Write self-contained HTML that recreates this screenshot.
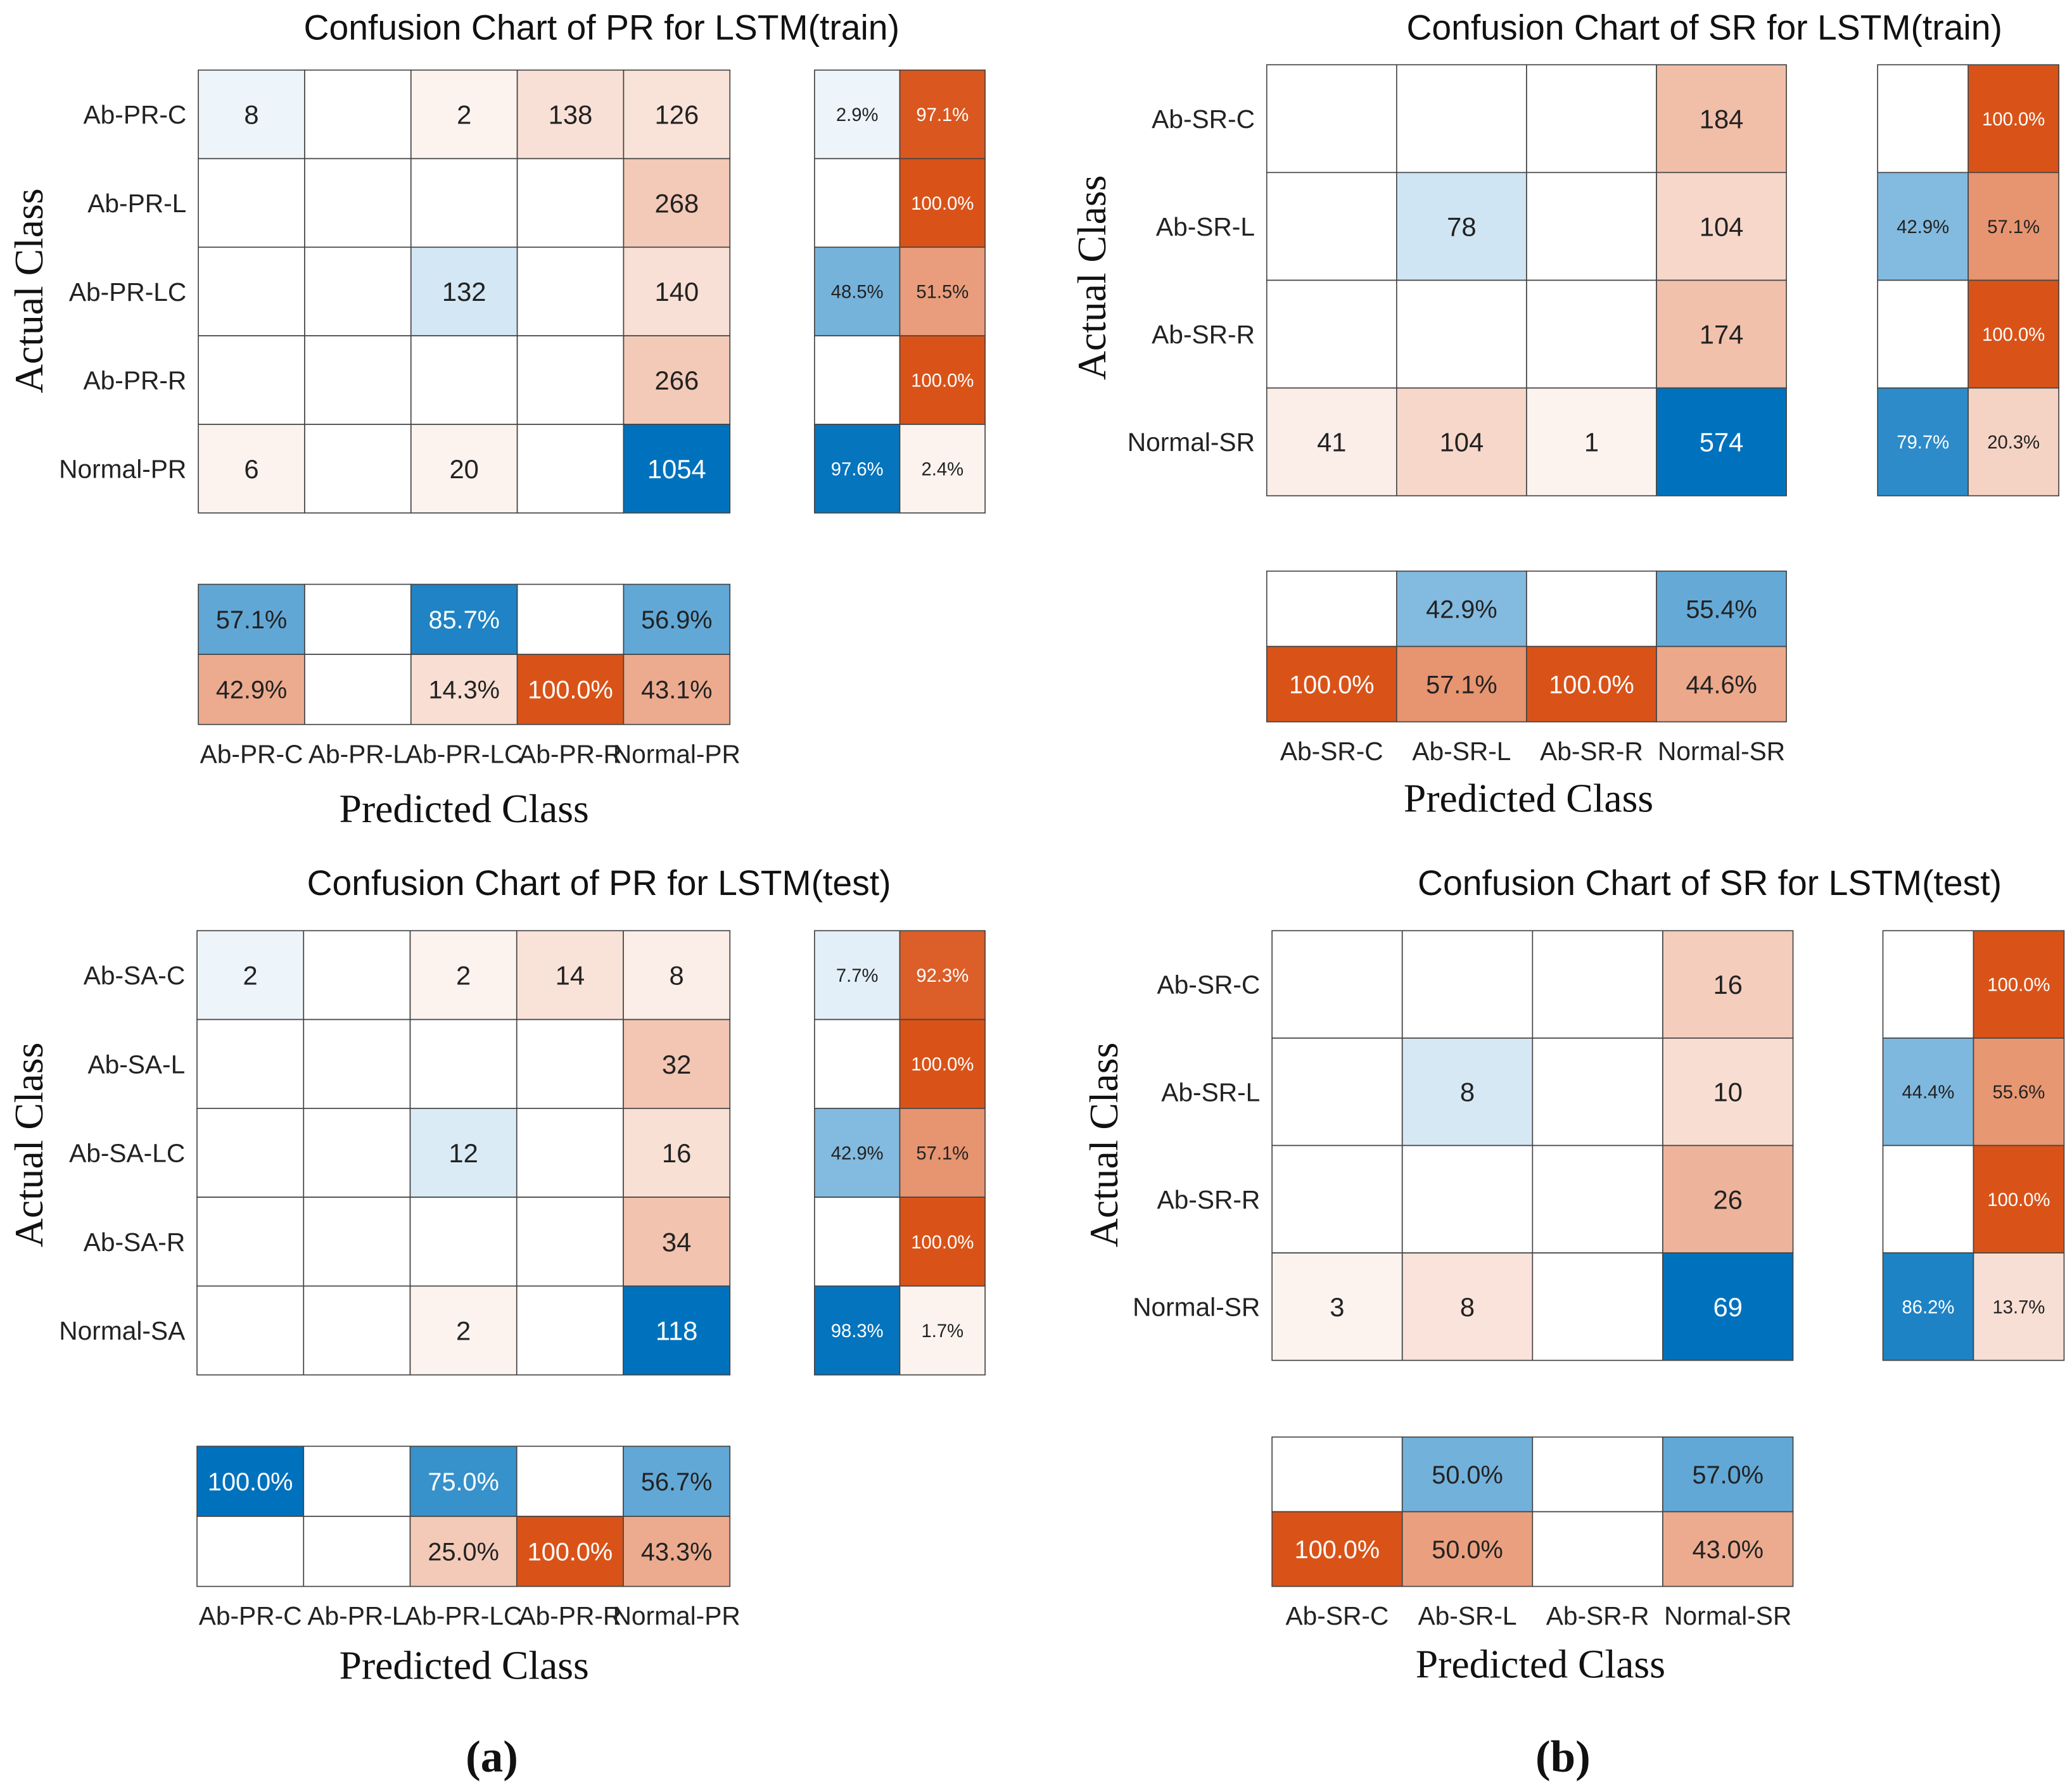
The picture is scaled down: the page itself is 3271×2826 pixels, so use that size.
<!DOCTYPE html>
<html><head><meta charset="utf-8"><style>
html,body{margin:0;padding:0;background:#fff;}
svg{display:block;}
text{font-family:"Liberation Sans",sans-serif;}
.serif{font-family:"Liberation Serif",serif;}
</style></head><body>
<svg id="fig" width="3271" height="2826" viewBox="0 0 1567 1354" preserveAspectRatio="none" xmlns="http://www.w3.org/2000/svg"></svg>
<script>
// ---- Data ----
const prLabels = ["Ab-PR-C","Ab-PR-L","Ab-PR-LC","Ab-PR-R","Normal-PR"];
const saLabels = ["Ab-SA-C","Ab-SA-L","Ab-SA-LC","Ab-SA-R","Normal-SA"];
const srLabels = ["Ab-SR-C","Ab-SR-L","Ab-SR-R","Normal-SR"];

const prTrainMatrix = [[8,0,2,138,126],[0,0,0,0,268],[0,0,132,0,140],[0,0,0,0,266],[6,0,20,0,1054]];
const prTrainRow = [[2.9,97.1],[0,100],[48.5,51.5],[0,100],[97.6,2.4]];
const prTrainColTop = [57.1,0,85.7,0,56.9];
const prTrainColBot = [42.9,0,14.3,100,43.1];

const srTrainMatrix = [[0,0,0,184],[0,78,0,104],[0,0,0,174],[41,104,1,574]];
const srTrainRow = [[0,100],[42.9,57.1],[0,100],[79.7,20.3]];
const srTrainColTop = [0,42.9,0,55.4];
const srTrainColBot = [100,57.1,100,44.6];

const prTestMatrix = [[2,0,2,14,8],[0,0,0,0,32],[0,0,12,0,16],[0,0,0,0,34],[0,0,2,0,118]];
const prTestRow = [[7.7,92.3],[0,100],[42.9,57.1],[0,100],[98.3,1.7]];
const prTestColTop = [100,0,75.0,0,56.7];
const prTestColBot = [0,0,25.0,100,43.3];

const srTestMatrix = [[0,0,0,16],[0,8,0,10],[0,0,0,26],[3,8,0,69]];
const srTestRow = [[0,100],[44.4,55.6],[0,100],[86.2,13.7]];
const srTestColTop = [0,50.0,0,57.0];
const srTestColBot = [100,50.0,0,43.0];

const NS = "http://www.w3.org/2000/svg";
const svg = document.getElementById("fig");
const BLUE = [0,114,189], ORANGE = [217,83,25];
function mix(c,t){return "rgb("+c.map(v=>Math.round(255-(255-v)*t)).join(",")+")";}
function el(tag, attrs, parent){const e=document.createElementNS(NS,tag);for(const k in attrs)e.setAttribute(k,attrs[k]);(parent||svg).appendChild(e);return e;}
function txt(s, attrs, parent){const e=el("text",attrs,parent);e.textContent=s;return e;}

function cell(g,x,y,w,h,val,label,blue,t,fs){
  const r=el("rect",{x:x,y:y,width:w,height:h,fill:val>0?mix(blue?BLUE:ORANGE,Math.max(t<1?Math.pow(t,0.85):1,0.07)):"#fff",stroke:"#444","stroke-width":0.8},g);
  
  
  if(val>0){
    const tx=txt(label,{x:x+w/2,y:y+h/2+fs*0.36,"text-anchor":"middle","font-size":fs,fill:t>0.6?"#fff":"#222"},g);
    
    
  }
}

function chart(cfg){
  const g=el("g",{},svg);
  
  
  const n=cfg.cols.length, m=cfg.matrix.length;
  const cw=(cfg.x1-cfg.x0)/n, rh=(cfg.y1-cfg.y0)/m;
  let mx=0; cfg.matrix.forEach(r=>r.forEach(v=>{if(v>mx)mx=v;}));
  cfg.matrix.forEach((row,i)=>row.forEach((v,j)=>{
    cell(g,cfg.x0+j*cw,cfg.y0+i*rh,cw,rh,v,String(v),i===j,v/mx,20);
  }));
  const rw=(cfg.rx1-cfg.rx0)/2;
  cfg.row.forEach((p,i)=>{
    cell(g,cfg.rx0,cfg.y0+i*rh,rw,rh,p[0],p[0].toFixed(1)+"%",true,p[0]/100,14);
    cell(g,cfg.rx0+rw,cfg.y0+i*rh,rw,rh,p[1],p[1].toFixed(1)+"%",false,p[1]/100,14);
  });
  const bh=(cfg.by1-cfg.by0)/2;
  cfg.colTop.forEach((v,j)=>cell(g,cfg.x0+j*cw,cfg.by0,cw,bh,v,v.toFixed(1)+"%",true,v/100,19));
  cfg.colBot.forEach((v,j)=>cell(g,cfg.x0+j*cw,cfg.by0+bh,cw,bh,v,v.toFixed(1)+"%",false,v/100,19));
  cfg.rows.forEach((l,i)=>{
    const t=txt(l,{x:cfg.x0-9,y:cfg.y0+(i+0.5)*rh+7,"text-anchor":"end","font-size":19.5,fill:"#222"},g);
    
    
  });
  cfg.cols.forEach((l,j)=>{
    const t=txt(l,{x:cfg.x0+(j+0.5)*cw,y:cfg.by1+29,"text-anchor":"middle","font-size":19.5,fill:"#222"},g);
    
    
  });
  const ti=txt(cfg.title,{x:cfg.tx,y:cfg.ty,"text-anchor":"middle","font-size":26.5,fill:"#111"},g);
  
  
  const xl=txt("Predicted  Class",{x:cfg.px,y:cfg.py,"text-anchor":"middle","font-size":30.5,fill:"#111","class":"serif"},g);
  
  
  const yl=txt("Actual Class",{x:0,y:0,"text-anchor":"middle","font-size":30.5,fill:"#111","class":"serif",transform:"translate("+(cfg.ax+10)+","+cfg.ay+") rotate(-90)"},g);
  
  
}

chart({name:"pr-train-chart",title:"Confusion Chart of PR for LSTM(train)",rows:prLabels,cols:prLabels,
  matrix:prTrainMatrix,row:prTrainRow,colTop:prTrainColTop,colBot:prTrainColBot,
  x0:150,x1:552,y0:53,y1:388,rx0:616,rx1:745,by0:442,by1:548,tx:455,ty:30,px:351,py:622,ax:22,ay:220});
chart({name:"sr-train-chart",title:"Confusion Chart of SR for LSTM(train)",rows:srLabels,cols:srLabels,
  matrix:srTrainMatrix,row:srTrainRow,colTop:srTrainColTop,colBot:srTrainColBot,
  x0:958,x1:1351,y0:49,y1:375,rx0:1420,rx1:1557,by0:432,by1:546,tx:1289,ty:30,px:1156,py:614,ax:826,ay:210});
chart({name:"pr-test-chart",title:"Confusion Chart of PR for LSTM(test)",rows:saLabels,cols:prLabels,
  matrix:prTestMatrix,row:prTestRow,colTop:prTestColTop,colBot:prTestColBot,
  x0:149,x1:552,y0:704,y1:1040,rx0:616,rx1:745,by0:1094,by1:1200,tx:453,ty:677,px:351,py:1270,ax:22,ay:866});
chart({name:"sr-test-chart",title:"Confusion Chart of SR for LSTM(test)",rows:srLabels,cols:srLabels,
  matrix:srTestMatrix,row:srTestRow,colTop:srTestColTop,colBot:srTestColBot,
  x0:962,x1:1356,y0:704,y1:1029,rx0:1424,rx1:1561,by0:1087,by1:1200,tx:1293,ty:677,px:1165,py:1269,ax:835,ay:866});

const pa=txt("(a)",{x:372,y:1340,"text-anchor":"middle","font-size":34,fill:"#111","class":"serif","font-weight":"bold"});


const pb=txt("(b)",{x:1182,y:1340,"text-anchor":"middle","font-size":34,fill:"#111","class":"serif","font-weight":"bold"});


</script>
</body></html>
